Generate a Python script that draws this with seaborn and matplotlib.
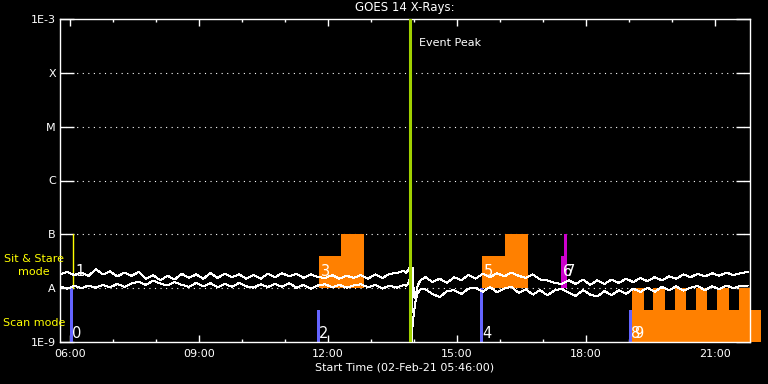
import numpy as np
import pandas as pd
import seaborn as sns
import matplotlib.pyplot as plt
import matplotlib.dates as mdates
import matplotlib.transforms as mtransforms

DAY = "2021-02-02 "

# GOES 14 X-ray flux, in units of 1e-8 W/m^2 (10 minute samples)
times_pre = pd.date_range(DAY + "05:46", DAY + "13:46", freq="10min")
long_pre = [1.8, 2.0, 1.75, 1.95, 1.7, 2.25, 1.8, 2.05, 1.65, 1.95,
            1.7, 2.0, 1.5, 1.75, 1.4, 1.7, 1.45, 1.85, 1.55, 1.8,
            1.5, 1.9, 1.55, 1.85, 1.6, 1.8, 1.5, 1.75, 1.5, 1.85,
            1.6, 1.9, 1.65, 1.85, 1.55, 1.8, 1.6, 1.55, 1.75, 1.5,
            1.7, 1.55, 1.75, 1.5, 1.8, 1.55, 1.85, 1.9, 2.1]
short_pre = [1.08, 0.98, 1.1, 1.0, 1.12, 1.02, 1.15, 1.04, 1.2, 1.06,
             1.22, 1.32, 1.15, 1.38, 1.22, 1.12, 1.3, 1.15, 1.06, 1.25,
             1.08, 1.24, 1.04, 1.2, 1.06, 1.25, 1.08, 1.02, 1.18, 1.05,
             1.2, 1.06, 1.24, 1.02, 1.15, 0.98, 1.12, 1.18, 1.04, 1.15,
             1.02, 1.12, 1.18, 1.04, 1.15, 0.98, 1.12, 1.02, 1.15]

# data dropout around the event peak
glitch_times = ["13:49", "13:52", "13:54", "13:55", "13:56", "13:57",
                "13:58", "14:00", "14:02", "14:05", "14:09"]
long_glitch = [1.95, 2.15, 2.45, 1.0, 0.1, 0.9, 2.4, 0.7, 0.65, 1.1, 1.4]
short_glitch = [1.1, 1.2, 1.5, 0.6, 0.1, 0.1, 0.2, 0.35, 0.55, 0.8, 0.95]

times_post = pd.date_range(DAY + "14:16", DAY + "21:46", freq="10min")
long_post = [1.6, 1.3, 1.5, 1.25, 1.6, 1.4, 1.75, 1.5, 1.85, 1.6,
             1.9, 1.65, 1.95, 1.7, 1.55, 1.8, 1.45, 1.4, 1.25, 1.2,
             1.4, 1.2, 1.45, 1.15, 1.4, 1.2, 1.45, 1.25, 1.5, 1.3,
             1.55, 1.35, 1.6, 1.4, 1.65, 1.5, 1.8, 1.6, 1.85, 1.65,
             1.9, 1.7, 1.95, 1.75, 1.9, 2.0]
short_post = [0.95, 0.78, 0.68, 0.88, 0.92, 0.78, 0.98, 1.02, 0.86, 1.05,
              0.84, 0.98, 1.06, 0.82, 0.95, 0.76, 0.92, 0.74, 0.9, 0.98,
              0.82, 0.72, 0.92, 0.76, 0.7, 0.88, 0.74, 0.92, 0.78, 0.98,
              0.85, 1.02, 0.86, 1.05, 0.92, 1.08, 0.9, 1.02, 1.1, 0.92,
              1.08, 0.96, 1.12, 1.0, 1.1, 1.12]

event_peak = "13:54"

# scan mode pointings (blue)
scan_ids = ["0", "2", "4", "8"]
scan_start = ["06:00", "11:45", "15:32", "19:00"]
scan_top = [1e-8, 4e-9, 1e-8, 4e-9]

# sit & stare pointings (steps above level A)
sit_ids = ["3", "", "5", "", "6", "7"]
sit_start = ["11:47", "12:18", "15:35", "16:07", "17:25", "17:29"]
sit_end = ["12:18", "12:50", "16:07", "16:39", "17:29", "17:33"]
sit_top = [4e-8, 1e-7, 4e-8, 1e-7, 4e-8, 1e-7]
sit_color = ["#ff8000", "#ff8000", "#ff8000", "#ff8000", "#cc00cc", "#cc00cc"]

# pointing 1 (yellow line) and pointing 9 (orange scan block with teeth)
p1_time = "06:04"
p9_start, p9_end, p9_top = "19:04", "22:04", 4e-9
teeth_start = ["19:04", "19:33", "20:04", "20:34", "21:03", "21:33"]
teeth_end = ["19:21", "19:50", "20:20", "20:49", "21:20", "21:49"]

level_names = ["1E-9", "A", "B", "C", "M", "X", "1E-3"]
level_values = [1e-9, 1e-8, 1e-7, 1e-6, 1e-5, 1e-4, 1e-3]


def t(hhmm):
    return pd.Timestamp(DAY + hhmm)


def tnum(hhmm):
    return mdates.date2num(t(hhmm))


sns.set_theme(style="dark", rc={
    "figure.facecolor": "black", "axes.facecolor": "black",
    "axes.edgecolor": "white", "text.color": "white",
    "xtick.color": "white", "ytick.color": "white",
    "patch.edgecolor": "none", "patch.linewidth": 0,
})
plt.rcParams["font.family"] = ["DejaVu Sans"]

# long format frame for seaborn
times = list(times_pre) + [t(s) for s in glitch_times] + list(times_post)
long_all = long_pre + long_glitch + long_post
short_all = short_pre + short_glitch + short_post
df = pd.DataFrame({
    "time": times * 2,
    "flux": np.array(long_all + short_all) * 1e-8,
    "channel": ["long"] * len(times) + ["short"] * len(times),
})

fig = plt.figure(figsize=(7.68, 3.84), dpi=100)
ax = fig.add_axes([60 / 768, 42 / 384, 690 / 768, 323 / 384])

sns.lineplot(data=df, x="time", y="flux", hue="channel",
             palette=["white", "white"], legend=False, lw=0.72, ax=ax,
             zorder=3, antialiased=False)

ax.set_yscale("log")
ax.set_ylim(1e-9, 1e-3)
ax.set_xlim(tnum("05:46"), tnum("21:49"))

# dotted level lines
for v in level_values[1:-1]:
    ax.axhline(v, color="white", lw=0.8, ls=(0, (1, 4)), zorder=1)

bar_kw = dict(align="edge", edgecolor="none", linewidth=0, zorder=2)

# scan mode bars
w4 = 4 / 1440
for s, top in zip(scan_start, scan_top):
    ax.bar(tnum(s), top - 1e-9, bottom=1e-9, width=w4, color="#6464ff",
           **bar_kw)

# sit & stare steps
for s, e, top, c in zip(sit_start, sit_end, sit_top, sit_color):
    ax.bar(tnum(s), top - 1e-8, bottom=1e-8, width=tnum(e) - tnum(s),
           color=c, **bar_kw)

# pointing 9 block
ax.bar(tnum(p9_start), p9_top - 1e-9, bottom=1e-9,
       width=tnum(p9_end) - tnum(p9_start), color="#ff8000",
       clip_on=False, **bar_kw)
for s, e in zip(teeth_start, teeth_end):
    ax.bar(tnum(s), 1e-8 - p9_top, bottom=p9_top, width=tnum(e) - tnum(s),
           color="#ff8000", **bar_kw)

# pointing 1
ax.plot([tnum(p1_time), tnum(p1_time)], [1e-8, 1e-7], color="#ffff00",
        lw=1, zorder=2)

# event peak
ax.axvline(tnum(event_peak), color="#a0d000", lw=2.2, zorder=4)
trans = mtransforms.blended_transform_factory(ax.transData, ax.transAxes)
ax.annotate("Event Peak", xy=(tnum(event_peak), 0.926), xycoords=trans,
            xytext=(7, 0), textcoords="offset points", va="center",
            ha="left", fontsize=8, color="white")

# pointing numbers
num_kw = dict(textcoords="offset points", fontsize=10.5, color="white",
              ha="left", va="baseline", zorder=5)
for sid, s in zip(scan_ids, scan_start):
    ax.annotate(sid, xy=(tnum(s), 1e-9), xytext=(1.5, 3), **num_kw)
ax.annotate("9", xy=(tnum(p9_start), 1e-9), xytext=(1.5, 3), **num_kw)
for sid, s in zip(sit_ids, sit_start):
    if sid:
        ax.annotate(sid, xy=(tnum(s), 1e-8), xytext=(1.5, 9), **num_kw)
ax.annotate("1", xy=(tnum(p1_time), 1e-8), xytext=(1.5, 9), **num_kw)

# axes styling
ax.set_yticks(level_values)
ax.set_yticklabels(level_names)
ax.yaxis.set_minor_locator(plt.NullLocator())
ax.tick_params(axis="y", which="major", direction="in", length=10,
               width=1, left=True, right=True, pad=3, labelsize=8)
ax.xaxis.set_major_locator(mdates.HourLocator(byhour=range(0, 24, 3)))
ax.xaxis.set_minor_locator(mdates.HourLocator())
ax.xaxis.set_major_formatter(mdates.DateFormatter("%H:%M"))
ax.tick_params(axis="x", which="major", direction="in", length=5,
               width=1, top=True, bottom=True, pad=5, labelsize=8)
ax.tick_params(axis="x", which="minor", direction="in", length=2.5,
               width=1, top=True, bottom=True)
for sp in ax.spines.values():
    sp.set_color("white")
    sp.set_linewidth(1)
ax.grid(False)
ax.set_xlabel("")
ax.set_ylabel("")

ytr = mtransforms.blended_transform_factory(ax.transAxes, ax.transData)
ax.text(-0.038, 10 ** -7.46, "Sit & Stare", transform=ytr, ha="center",
        va="center", fontsize=8, color="#ffff00")
ax.text(-0.038, 10 ** -7.70, "mode", transform=ytr, ha="center",
        va="center", fontsize=8, color="#ffff00")
ax.text(-0.038, 10 ** -8.65, "Scan mode", transform=ytr, ha="center",
        va="center", fontsize=8, color="#ffff00")

fig.text(405 / 768, 1 - 8 / 384, "GOES 14 X-Rays:", ha="center", va="center",
         fontsize=8.5, color="white")
fig.text(405 / 768, 1 - 368 / 384, "Start Time (02-Feb-21 05:46:00)",
         ha="center", va="center", fontsize=8, color="white")

fig.savefig("out.png", dpi=100, facecolor="black")
